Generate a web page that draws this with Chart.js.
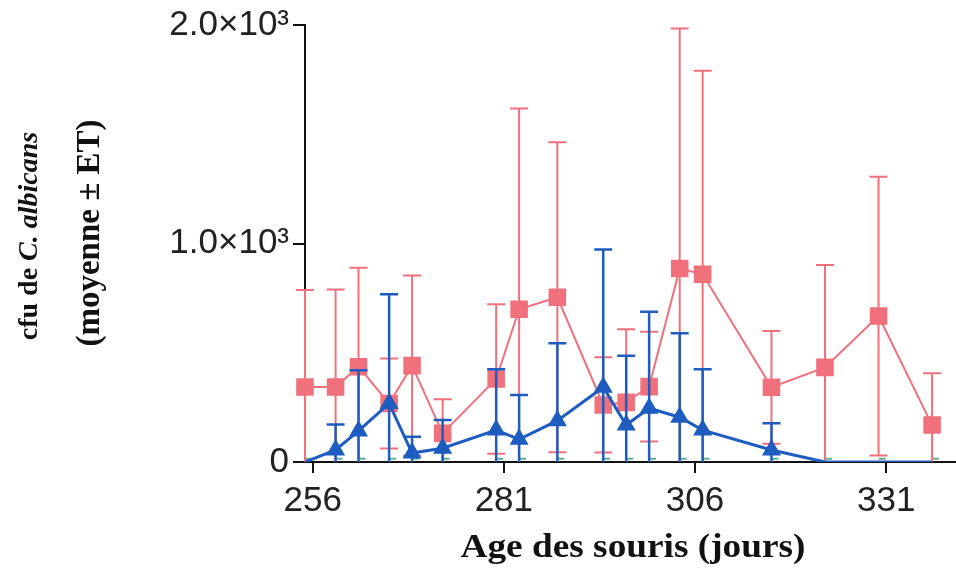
<!DOCTYPE html>
<html><head><meta charset="utf-8">
<script src="https://cdn.jsdelivr.net/npm/chart.js@4/dist/chart.umd.min.js"></script>
<style>html,body{margin:0;padding:0;background:#fff}canvas{display:block}</style>
</head><body>
<canvas id="c" width="956" height="569"></canvas>
<script>
const days      = [255,259,262,266,269,273,280,283,288,294,297,300,304,307,316,323,330,337];
const redMean   = [343,343,436,268,441,131,380,699,754,261,273,345,886,859,342,433,668,169];
const redErr    = [444,447,453,206,412,156,342,919,709,218,334,251,1098,932,258,469,638,237];
const blueMean  = [0,55,142,268,41,63,146,104,189,342,169,246,205,146,55,0,0,0];
const blueErr   = [0,117,278,500,75,129,278,203,354,631,317,442,384,278,122,0,0,0];
const baseMarks = [15,15,15,15,15,15,15,15,15,15,15,15,15,15,15,15,15,15];
const xTicks = [256,281,306,331];
const yTicks = [0,1000,2000];
const yTickLabels = ['0','1.0×10³','2.0×10³'];
const xTitle = 'Age des souris (jours)';
const yTitle1a = 'cfu de ';
const yTitle1b = 'C. albicans';
const yTitle2 = '(moyenne ± ET)';

const RED = '#f0707c';
const BLUE = '#1e5cc0';
const TEAL = '#5fae95';

const pts = arr => days.map((d,i)=>({x:d, y:arr[i]}));

const errorBars = {
  id:'errorBars',
  beforeDatasetDraw(chart, args){
    const ds = chart.data.datasets[args.index];
    if(!ds.errors) return;
    const ctx = chart.ctx, xs = chart.scales.x, ys = chart.scales.y, a = chart.chartArea;
    ctx.save();
    ctx.beginPath();
    ctx.rect(a.left-20, a.top-20, a.right-a.left+40, a.bottom-a.top+20);
    ctx.clip();
    ctx.strokeStyle = ds.borderColor;
    ctx.lineWidth = ds.errWidth || 2;
    ds.data.forEach((p,i)=>{
      const e = ds.errors[i];
      if(!e) return;
      const x = xs.getPixelForValue(p.x);
      const yt = ys.getPixelForValue(p.y + e);
      const yb = ys.getPixelForValue(Math.max(0,p.y - e));
      ctx.beginPath();
      ctx.moveTo(x, yt); ctx.lineTo(x, yb);
      ctx.moveTo(x-9, yt); ctx.lineTo(x+9, yt);
      if(p.y - e > 0){ ctx.moveTo(x-9, yb); ctx.lineTo(x+9, yb); }
      ctx.stroke();
    });
    ctx.restore();
  }
};

const titles = {
  id:'titles',
  afterDraw(chart){
    const ctx = chart.ctx;
    const serif = '"Liberation Serif", "Times New Roman", serif';
    ctx.save();
    ctx.fillStyle = '#111';
    ctx.textAlign = 'center';
    ctx.textBaseline = 'middle';
    ctx.font = 'bold 33px ' + serif;
    ctx.translate(633, 548);
    ctx.scale(1.13, 1);
    ctx.fillText(xTitle, 0, 0);
    ctx.restore();
    // y title line 1 (rotated, mixed style)
    ctx.save();
    ctx.fillStyle = '#111';
    ctx.textBaseline = 'middle';
    ctx.translate(30, 236);
    ctx.rotate(-Math.PI/2);
    const f1 = 'bold 28px ' + serif;
    const f2 = 'italic bold 28px ' + serif;
    ctx.font = f1; const w1 = ctx.measureText(yTitle1a).width;
    ctx.font = f2; const w2 = ctx.measureText(yTitle1b).width;
    ctx.textAlign = 'left';
    const sx = -(w1+w2)/2;
    ctx.font = f1; ctx.fillText(yTitle1a, sx, 0);
    ctx.font = f2; ctx.fillText(yTitle1b, sx + w1, 0);
    ctx.restore();
    // y title line 2
    ctx.save();
    ctx.fillStyle = '#111';
    ctx.translate(90, 233);
    ctx.rotate(-Math.PI/2);
    ctx.textAlign = 'center';
    ctx.textBaseline = 'middle';
    ctx.font = 'bold 33px ' + serif;
    ctx.fillText(yTitle2, 0, 0);
    ctx.restore();
  }
};

const xTickFont = {family:'"Liberation Sans", Arial, sans-serif', size:35};
const yTickFont = {family:'"Liberation Sans", Arial, sans-serif', size:35};

new Chart(document.getElementById('c'), {
  type:'line',
  data:{
    datasets:[
      {label:'base', data:pts(baseMarks), showLine:false, pointStyle:'dash', pointRadius:7,
       borderColor:TEAL, backgroundColor:TEAL, pointBorderWidth:2, order:3, clip:false},
      {label:'rouge', data:pts(redMean), errors:redErr, borderColor:RED, backgroundColor:RED,
       borderWidth:2, pointStyle:'rect', pointRadius:11, pointHoverRadius:11, tension:0, order:2, clip:false},
      {label:'bleu', data:pts(blueMean), errors:blueErr, borderColor:BLUE, backgroundColor:BLUE, errWidth:2.5,
       borderWidth:3, pointStyle:'triangle', pointRadius:(c)=> blueMean[c.dataIndex]===0?0:8, tension:0, order:1}
    ]
  },
  options:{
    responsive:false, animation:false, devicePixelRatio:1,
    layout:{autoPadding:false, padding:{top:25, right:1, left:0, bottom:0}},
    plugins:{legend:{display:false}, tooltip:{enabled:false}},
    scales:{
      x:{type:'linear', min:255, max:340,
        afterBuildTicks:s=>{ s.ticks = xTicks.map(v=>({value:v})); },
        afterFit:s=>{ s.height = 107; },
        grid:{drawOnChartArea:false, drawTicks:true, tickLength:11, color:'#111', lineWidth:2},
        border:{display:true, color:'#111', width:2},
        ticks:{font:xTickFont, color:'#222', padding:7, maxRotation:0, autoSkip:false}
      },
      y:{min:0, max:2000,
        afterBuildTicks:s=>{ s.ticks = yTicks.map(v=>({value:v})); },
        afterFit:s=>{ s.width = 305; },
        grid:{drawOnChartArea:false, drawTicks:true, tickLength:12, color:'#111', lineWidth:2},
        border:{display:true, color:'#111', width:2},
        ticks:{font:yTickFont, color:'#222', padding:4, callback:(v)=> yTickLabels[yTicks.indexOf(v)]}
      }
    }
  },
  plugins:[errorBars, titles]
});
</script>
</body></html>
